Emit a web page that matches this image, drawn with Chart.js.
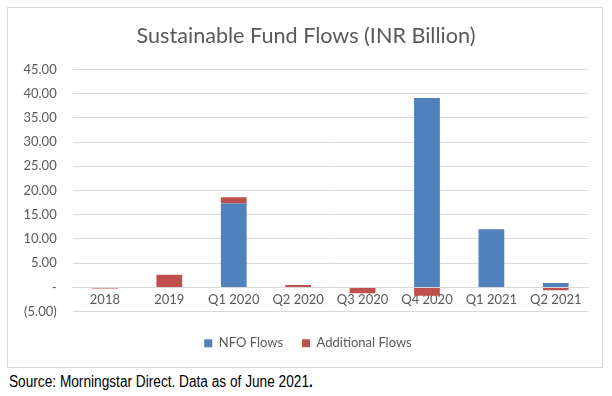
<!DOCTYPE html>
<html>
<head>
<meta charset="utf-8">
<script src="https://cdn.jsdelivr.net/npm/chart.js@4"></script>
<style>
  html, body { margin: 0; padding: 0; background: #fff; width: 612px; height: 396px; overflow: hidden; }
  #frame { position: absolute; left: 7px; top: 7px; width: 596px; height: 361px; border: 1px solid #d9d9d9; box-sizing: border-box; }
  #wrap { position: absolute; left: 0; top: 0; width: 612px; height: 370px; }
  #source { position: absolute; left: 9px; top: 372px; font-family: "Liberation Sans", Arial, sans-serif; font-size: 16px; line-height: 20px; color: #000; white-space: nowrap; transform: scaleX(0.854); transform-origin: 0 0; }
</style>
</head>
<body>
<div id="frame"></div>
<div id="wrap"><canvas id="c" width="612" height="370"></canvas></div>
<div id="source">Source: Morningstar Direct. Data as of June 2021<b>.</b></div>
<script>
const categories = ['2018', '2019', 'Q1 2020', 'Q2 2020', 'Q3 2020', 'Q4 2020', 'Q1 2021', 'Q2 2021'];
const nfoFlows = [0, 0, 17.3, 0, 0, 39.1, 12.0, 0.9];
const additionalFlows = [-0.2, 2.6, 1.3, 0.5, -1.2, -1.7, 0, -0.6];
const yMin = -5, yMax = 45, yStep = 5;
const titleText = 'Sustainable Fund Flows (INR Billion)';

function fmt(v) {
  if (Math.abs(v) < 1e-9) return '-';
  const s = Math.abs(v).toFixed(2);
  return v < 0 ? '(' + s + ')' : s;
}

const grey = '#595959';
const fontFam = 'Lato, "Open Sans", sans-serif';

const boxShift = {
  id: 'boxShift',
  afterLayout(chart) {
    const lg = chart.legend;
    if (lg) { lg.top += 6; lg.bottom += 6; lg.left += 9; lg.right += 9; }
    const tb = chart.titleBlock;
    if (tb) { tb.left += 7; tb.right += 7; }
  }
};

new Chart(document.getElementById('c'), {
  type: 'bar',
  data: {
    labels: categories,
    datasets: [
      { label: 'NFO Flows', data: nfoFlows, backgroundColor: '#4F81BD', categoryPercentage: 0.4, barPercentage: 1 },
      { label: 'Additional Flows', data: additionalFlows, backgroundColor: '#C0504D', categoryPercentage: 0.4, barPercentage: 1 }
    ]
  },
  plugins: [boxShift],
  options: {
    responsive: false,
    animation: false,
    layout: { padding: { left: 10, right: 24, top: 0, bottom: 16.3 } },
    plugins: {
      title: {
        display: true, text: titleText, color: grey,
        font: { family: fontFam, size: 21.6, weight: 'normal', lineHeight: 1.2 },
        padding: { top: 22.6, bottom: 20.8 }
      },
      legend: {
        display: true, position: 'bottom',
        labels: { color: grey, font: { family: fontFam, size: 13 }, boxWidth: 8, boxHeight: 8, padding: 19 }
      },
      tooltip: { enabled: false }
    },
    scales: {
      x: {
        stacked: true,
        position: { y: 0 },
        grid: { display: false, drawTicks: false },
        border: { display: true, color: '#d9d9d9' },
        ticks: { color: grey, font: { family: fontFam, size: 13 }, padding: 5, maxRotation: 0, autoSkip: false }
      },
      y: {
        stacked: true,
        min: yMin, max: yMax,
        afterFit: (s) => { s.width = 62.7; },
        grid: { color: '#d9d9d9', drawTicks: false },
        border: { display: false },
        ticks: { stepSize: yStep, color: grey, font: { family: fontFam, size: 13 }, padding: 16, callback: (v) => fmt(v) }
      }
    }
  }
});
</script>
</body>
</html>
